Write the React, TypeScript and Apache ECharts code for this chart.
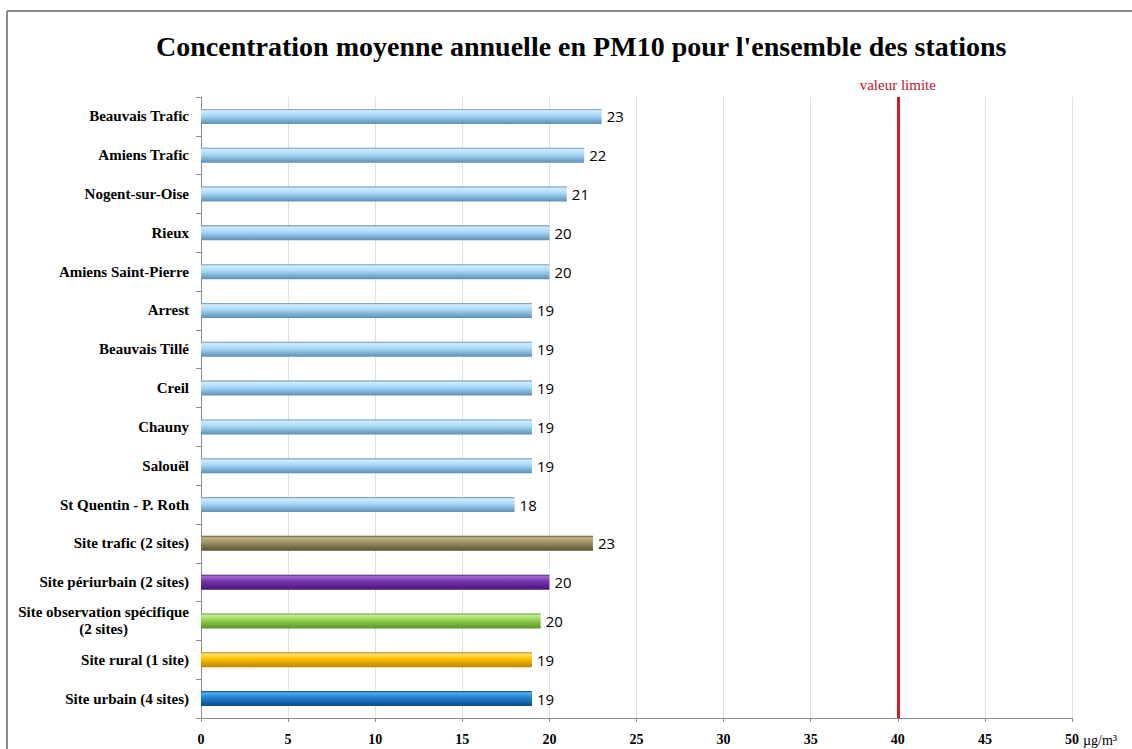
import React, { useEffect, useRef } from "react";
import * as echarts from "echarts";

// Categories listed bottom-to-top (ECharts category axis starts at the bottom)
const categories = [
  "Site urbain (4 sites)",
  "Site rural (1 site)",
  "Site observation spécifique\n(2 sites)",
  "Site périurbain (2 sites)",
  "Site trafic (2 sites)",
  "St Quentin - P. Roth",
  "Salouël",
  "Chauny",
  "Creil",
  "Beauvais Tillé",
  "Arrest",
  "Amiens Saint-Pierre",
  "Rieux",
  "Nogent-sur-Oise",
  "Amiens Trafic",
  "Beauvais Trafic",
];

const values = [19, 19, 19.5, 20, 22.5, 18, 19, 19, 19, 19, 19, 20, 20, 21, 22, 23];

const limitValue = 40;
const xTicks = [0, 5, 10, 15, 20, 25, 30, 35, 40, 45, 50];

// [top, middle, bottom] colours for each bar's cylinder look
const lightBlue = ["#d2ebfb", "#a7d8f8", "#5d8fb6"];
const palette = [
  ["#55aaec", "#1f7fd0", "#0b4b86"],
  ["#ffe170", "#ffc000", "#b88600"],
  ["#c4ee98", "#92d050", "#5b9428"],
  ["#a066d2", "#7632b0", "#481874"],
  ["#bab186", "#9a9062", "#5c5434"],
  lightBlue, lightBlue, lightBlue, lightBlue, lightBlue, lightBlue,
  lightBlue, lightBlue, lightBlue, lightBlue, lightBlue,
];

function grad(c: string[]) {
  return new echarts.graphic.LinearGradient(0, 0, 0, 1, [
    { offset: 0, color: c[2] },
    { offset: 0.12, color: c[0] },
    { offset: 0.45, color: c[1] },
    { offset: 1, color: c[2] },
  ]);
}

export default function App() {
  const ref = useRef<HTMLDivElement>(null);
  useEffect(() => {
    if (!ref.current) return;
    const chart = echarts.init(ref.current, null, { renderer: "svg" });
    const serif = "'Liberation Serif', 'Times New Roman', serif";
    chart.setOption({
      animation: false,
      backgroundColor: "#ffffff",
      title: {
        text: "Concentration moyenne annuelle en PM10 pour l'ensemble des stations",
        left: 151,
        top: 27,
        textStyle: { fontFamily: serif, fontWeight: "bold", fontSize: 28, color: "#000" },
      },
      graphic: [
        {
          type: "line",
          shape: { x1: 7, y1: 11, x2: 1132, y2: 11 },
          style: { stroke: "#8a8a8a", lineWidth: 2 },
          silent: true,
        },
        {
          type: "line",
          shape: { x1: 7, y1: 11, x2: 7, y2: 749 },
          style: { stroke: "#8a8a8a", lineWidth: 2 },
          silent: true,
        },
        {
          type: "text",
          x: 1083,
          y: 740,
          style: {
            text: "µg/m³",
            fontFamily: serif,
            fontSize: 14,
            fill: "#000",
            verticalAlign: "middle",
          },
        },
      ],
      grid: { left: 201, right: 60, top: 97, bottom: 31, containLabel: false },
      xAxis: {
        type: "value",
        min: 0,
        max: 50,
        interval: 5,
        axisLine: { show: true, lineStyle: { color: "#8c8c8c" } },
        axisTick: { show: true, length: 4, lineStyle: { color: "#8c8c8c" } },
        axisLabel: {
          fontFamily: serif,
          fontWeight: "bold",
          fontSize: 14,
          color: "#000",
          margin: 14,
          formatter: (v: number) => (xTicks.includes(v) ? String(v) : ""),
        },
        splitLine: { show: true, lineStyle: { color: "#e0e0e0" } },
      },
      yAxis: {
        type: "category",
        data: categories,
        axisLine: { show: true, lineStyle: { color: "#8c8c8c" } },
        axisTick: { show: true, length: 5, lineStyle: { color: "#8c8c8c" } },
        axisLabel: {
          fontFamily: serif,
          fontWeight: "bold",
          fontSize: 15,
          color: "#000",
          margin: 12,
          lineHeight: 17,
          formatter: (v: string) =>
            v.includes("\n")
              ? v
                  .split("\n")
                  .map((s) => "{c|" + s + "}")
                  .join("\n")
              : v,
          rich: {
            c: {
              align: "center",
              fontFamily: serif,
              fontWeight: "bold",
              fontSize: 15,
              color: "#000",
              lineHeight: 17,
            },
          },
        },
      },
      series: [
        {
          type: "bar",
          barWidth: 15,
          data: values.map((v, i) => ({
            value: v,
            itemStyle: { color: grad(palette[i]) },
          })),
          label: {
            show: true,
            position: "right",
            distance: 5,
            fontFamily: "'Open Sans', sans-serif",
            fontSize: 15,
            color: "#000",
            formatter: (p: any) => String(Math.round(p.value)),
          },
          markLine: {
            symbol: "none",
            silent: true,
            lineStyle: { color: "#c8202a", width: 3, type: "solid" },
            label: {
              show: true,
              position: "end",
              formatter: "valeur limite",
              fontFamily: serif,
              fontSize: 15,
              color: "#c8102e",
              distance: 5,
            },
            data: [{ xAxis: limitValue }],
          },
        },
      ],
    });
    return () => chart.dispose();
  }, []);
  return (
    <div
      ref={ref}
      style={{ position: "fixed", left: 0, top: 0, width: 1132, height: 749 }}
    />
  );
}
